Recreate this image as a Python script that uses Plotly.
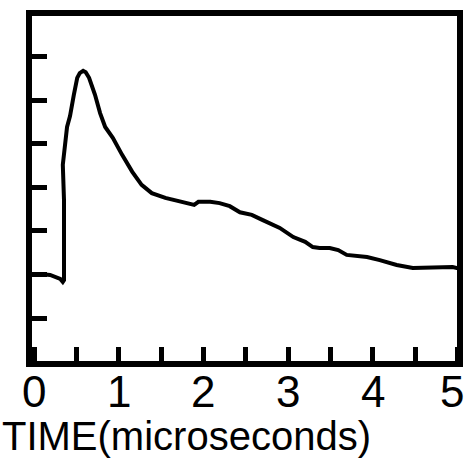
import plotly.graph_objects as go

# Trace (time in microseconds, signal in y-tick units)
time_us = [-0.06, 0.07, 0.19, 0.25, 0.31, 0.34, 0.354, 0.354, 0.34, 0.39, 0.425, 0.47,
           0.51, 0.54, 0.58, 0.61, 0.65, 0.72, 0.78, 0.84, 0.885, 0.93, 1.04, 1.16,
           1.27, 1.39, 1.55, 1.75, 1.84, 1.89, 1.94, 2.08, 2.19, 2.31, 2.43, 2.57,
           2.70, 2.81, 2.90, 3.06, 3.20, 3.29, 3.37, 3.49, 3.59, 3.69, 3.81, 3.93,
           4.08, 4.28, 4.47, 4.71, 4.94, 5.03]
signal = [1.99, 2.01, 1.99, 1.94, 1.90, 1.83, 1.87, 3.71, 4.52, 5.39, 5.64, 6.13,
          6.52, 6.63, 6.68, 6.65, 6.52, 6.13, 5.71, 5.39, 5.25, 5.14, 4.75, 4.36,
          4.06, 3.87, 3.76, 3.67, 3.62, 3.60, 3.67, 3.67, 3.64, 3.57, 3.43, 3.37,
          3.25, 3.16, 3.07, 2.86, 2.75, 2.63, 2.61, 2.61, 2.56, 2.45, 2.43, 2.40,
          2.33, 2.22, 2.15, 2.17, 2.17, 2.13]

x_tick_vals = [0, 1, 2, 3, 4, 5]
x_tick_text = ["0", "1", "2", "3", "4", "5"]
y_tick_vals = [1, 2, 3, 4, 5, 6, 7]
x_title = "TIME(microseconds)"

fig = go.Figure()
fig.add_trace(go.Scatter(x=time_us, y=signal, mode="lines",
                         line=dict(color="black", width=4), hoverinfo="skip"))

fig.update_layout(
    width=468, height=460,
    margin=dict(l=29, r=8, t=13, b=96, autoexpand=False),
    paper_bgcolor="white", plot_bgcolor="white",
    showlegend=False,
    font=dict(family="Liberation Sans, Arial, sans-serif", color="black"),
)
fig.update_xaxes(
    range=[-0.059, 5.027], showgrid=False, zeroline=False, showline=False,
    automargin=False,
    tickmode="array", tickvals=x_tick_vals, showticklabels=False,
    ticks="inside", ticklen=17, tickwidth=5, tickcolor="black",
    minor=dict(ticks="inside", ticklen=17, tickwidth=5, tickcolor="black", dtick=0.5, tick0=0, showgrid=False),
)
fig.update_yaxes(
    range=[-0.057, 8.01], showgrid=False, zeroline=False, showline=False,
    automargin=False,
    tickmode="array", tickvals=y_tick_vals, showticklabels=False,
    ticks="inside", ticklen=18, tickwidth=5, tickcolor="black",
)
fig.add_shape(type="rect", xref="paper", yref="paper", x0=0, x1=1, y0=0, y1=1,
              line=dict(color="black", width=6), layer="above")

# x tick labels drawn as annotations so the last one stays inside the page
for i, (v, t) in enumerate(zip(x_tick_vals, x_tick_text)):
    shift = -6 if i == len(x_tick_vals) - 1 else 0
    fig.add_annotation(text=t, x=v, xref="x", y=-0.079, yref="paper",
                       xanchor="center", yanchor="middle", xshift=shift,
                       showarrow=False, font=dict(size=44, color="black"))

fig.add_annotation(text=x_title, xref="paper", yref="paper", x=-0.067, y=-0.205,
                   xanchor="left", yanchor="middle", showarrow=False,
                   font=dict(size=40, color="black"))

fig.write_html("out.html")
